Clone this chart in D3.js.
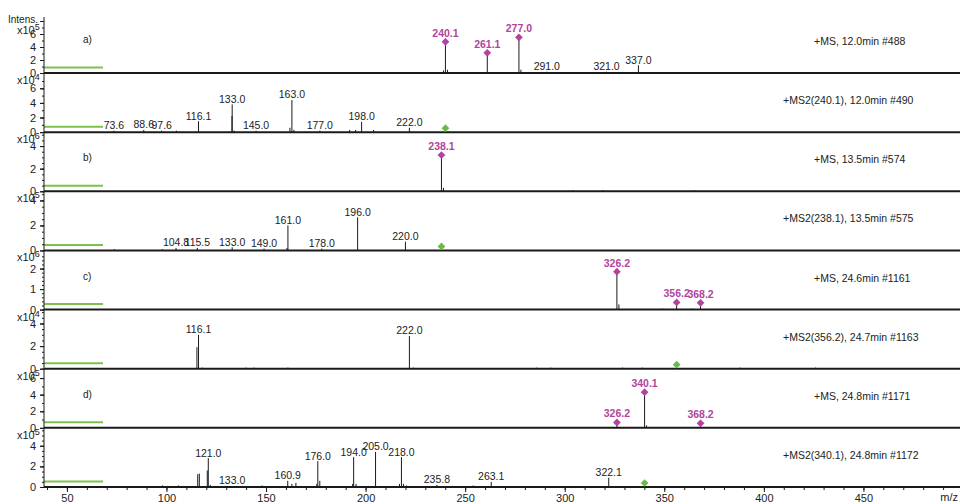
<!DOCTYPE html>
<html><head><meta charset="utf-8">
<script src="https://cdn.jsdelivr.net/npm/d3@7"></script>
<style>
html,body{margin:0;padding:0;background:#fff;}
svg{display:block;font-family:"Liberation Sans",Arial,sans-serif;}
</style></head><body>
<svg id="chart" width="960" height="504"></svg>
<script>
// ---- m/z axis ----
const mzTicks = [50, 100, 150, 200, 250, 300, 350, 400, 450];
const mzRange = [38.5, 499];

// ---- a) +MS, 12.0min #488 ----
const peaksA1 = [[239.1,0.4],[240.1,4.8],[241.1,0.5],[261.1,3.1],[277.0,5.5],[278.0,0.5],[291.0,0.2],[321.0,0.2],[337.0,1.2]];
const labelsA1 = [291.0, 321.0, 337.0];
const markedA1 = [240.1, 261.1, 277.0];
// ---- +MS2(240.1), 12.0min #490 ----
const peaksA2 = [[73.6,0.2],[88.6,0.3],[97.6,0.2],[105.0,0.2],[116.1,1.5],[132.9,2.2],[133.0,3.8],[134.0,0.2],[145.0,0.2],[162.0,0.6],[163.0,4.4],[164.0,0.3],[177.0,0.2],[192.0,0.3],[195.0,0.3],[198.0,1.4],[204.0,0.3],[222.0,0.6]];
const labelsA2 = [73.6, 88.6, 97.6, 116.1, 133.0, 145.0, 163.0, 177.0, 198.0, 222.0];
// ---- b) +MS, 13.5min #574 ----
const peaksB1 = [[238.1,3.2],[239.1,0.3],[304.0,0.1],[319.0,0.1],[365.0,0.1]];
const markedB1 = [238.1];
// ---- +MS2(238.1), 13.5min #575 ----
const peaksB2 = [[74.0,0.1],[98.0,0.1],[104.8,0.2],[115.5,0.2],[133.0,0.25],[149.0,0.15],[160.5,0.2],[161.0,2.0],[178.0,0.15],[196.0,2.65],[220.0,0.7]];
const labelsB2 = [104.8, 115.5, 133.0, 149.0, 161.0, 178.0, 196.0, 220.0];
// ---- c) +MS, 24.6min #1161 ----
const peaksC1 = [[326.2,1.85],[327.2,0.25],[349.0,0.05],[356.2,0.35],[364.0,0.05],[368.2,0.33]];
const markedC1 = [326.2, 356.2, 368.2];
// ---- +MS2(356.2), 24.7min #1163 ----
const peaksC2 = [[115.3,1.9],[116.1,3.0],[118.0,0.1],[140.0,0.1],[144.0,0.1],[161.0,0.1],[222.0,2.9],[224.0,0.1],[286.0,0.1],[293.0,0.1],[329.0,0.1],[339.0,0.1],[388.0,0.1],[426.0,0.1]];
const labelsC2 = [116.1, 222.0];
// ---- d) +MS, 24.8min #1171 ----
const peaksD1 = [[326.2,0.65],[340.1,4.3],[341.1,0.3],[368.2,0.55]];
const markedD1 = [326.2, 340.1, 368.2];
// ---- +MS2(340.1), 24.8min #1172 ----
const peaksD2 = [[98.0,0.15],[106.0,0.15],[115.7,1.25],[116.5,1.3],[120.5,1.6],[121.0,2.8],[122.0,0.2],[131.0,0.1],[133.0,0.1],[148.0,0.15],[160.9,0.6],[163.0,0.3],[165.0,0.4],[175.5,0.3],[176.0,2.5],[177.0,0.6],[193.5,0.3],[194.0,2.9],[195.2,0.3],[205.0,3.4],[206.0,0.1],[217.0,0.3],[218.0,2.9],[219.0,0.3],[220.5,0.15],[223.0,0.1],[235.8,0.2],[254.0,0.15],[263.1,0.5],[322.1,0.9]];
const labelsD2 = [121.0, 133.0, 160.9, 176.0, 194.0, 205.0, 218.0, 235.8, 263.1, 322.1];

// ---- per-trace settings ----
const titles = ["+MS, 12.0min #488", "+MS2(240.1), 12.0min #490", "+MS, 13.5min #574", "+MS2(238.1), 13.5min #575",
                "+MS, 24.6min #1161", "+MS2(356.2), 24.7min #1163", "+MS, 24.8min #1171", "+MS2(340.1), 24.8min #1172"];
const tags = ["a)", "", "b)", "", "c)", "", "d)", ""];
const exponents = ["5", "4", "6", "5", "6", "4", "5", "5"];
const yMaxes = [8.77, 7.8, 5.04, 4.56, 2.78, 5.04, 6.87, 5.53];
const yTickSteps = [2, 2, 2, 2, 1, 2, 2, 2];
const yMinorSteps = [1, 1, 0.5, 0.5, 0.2, 0.5, 1, 0.5];
const precursors = [null, 240.1, null, 238.1, null, 356.2, null, 340.1];

const peakSets = [peaksA1, peaksA2, peaksB1, peaksB2, peaksC1, peaksC2, peaksD1, peaksD2];
const labelSets = [labelsA1, labelsA2, [], labelsB2, [], labelsC2, [], labelsD2];
const markedSets = [markedA1, [], markedB1, [], markedC1, [], markedD1, []];

// ---- drawing ----
const svg = d3.select("#chart");
const W = 960, axisX = 44, firstBase = 73, lastBase = 487;
const step = (lastBase - firstBase) / 7;
const plotH = 57;
const magenta = "#b2449d", greenMark = "#6cb945", greenLine = "#7cc24b", ink = "#1a1a1a";

const x = d3.scaleLinear().domain(mzRange).range([axisX, W + 1]);
const diamond = d3.symbol().type(d3.symbolSquare).size(30);

titles.forEach((title, i) => {
  const base = firstBase + i * step;
  const prevBase = i === 0 ? 17 : base - step;
  const labelTop = i === 0 ? 28 : prevBase + 2;
  const y = d3.scaleLinear().domain([0, yMaxes[i]]).range([base, base - plotH]);
  const g = svg.append("g");
  const peaks = peakSets[i].map(([mz, h]) => ({mz, h}));
  const heightOf = mz => (peaks.find(p => Math.abs(p.mz - mz) < 0.01) || {h: 0}).h;

  // y axis ticks (major + minor), limited to this trace's band
  const within = v => y(v) >= prevBase + 2;
  const ticks = d3.range(0, yMaxes[i] + 1e-6, yTickSteps[i]).filter(within);
  const labelled = ticks.filter(v => y(v) >= labelTop);
  const minor = d3.range(0, yMaxes[i] + 1e-6, yMinorSteps[i]).filter(within);
  const minorAxis = g.append("g").attr("transform", `translate(${axisX},0)`)
    .call(d3.axisLeft(y).tickValues(minor).tickSize(2).tickFormat(""));
  const tickAxis = g.append("g").attr("transform", `translate(${axisX},0)`)
    .call(d3.axisLeft(y).tickValues(ticks).tickSize(4).tickFormat(""));
  const labelAxis = g.append("g").attr("transform", `translate(${axisX},0)`)
    .call(d3.axisLeft(y).tickValues(labelled).tickSize(4).tickPadding(4).tickFormat(d3.format("d")));
  [minorAxis, tickAxis, labelAxis].forEach(a => { a.select(".domain").remove(); a.selectAll("line").attr("stroke", ink); });
  labelAxis.selectAll("text").attr("font-size", 11).attr("fill", "#222").attr("font-family", "Liberation Sans, Arial, sans-serif");

  // scale factor label
  const sx = g.append("text").attr("x", 17).attr("y", (i === 0 ? 30 : prevBase + 7) + 4)
    .attr("font-size", 11).attr("fill", "#222").text("x10");
  sx.append("tspan").attr("font-size", 9).attr("dy", -4).text(exponents[i]);

  // green reference line
  g.append("line").attr("x1", axisX).attr("x2", 103).attr("y1", base - 5.5).attr("y2", base - 5.5)
    .attr("stroke", greenLine).attr("stroke-width", 2);

  // stems
  g.selectAll("line.stem").data(peaks).join("line").attr("class", "stem")
    .attr("x1", d => x(d.mz)).attr("x2", d => x(d.mz))
    .attr("y1", y(0)).attr("y2", d => y(d.h))
    .attr("stroke", ink).attr("stroke-width", 1);

  // baseline
  g.append("line").attr("x1", axisX).attr("x2", W).attr("y1", base).attr("y2", base)
    .attr("stroke", ink).attr("stroke-width", 2);

  // black peak labels
  g.selectAll("text.pl").data(labelSets[i]).join("text").attr("class", "pl")
    .attr("x", d => x(d)).attr("y", d => y(heightOf(d)) - 1.5)
    .attr("text-anchor", "middle").attr("font-size", 10.5).attr("fill", "#222")
    .text(d => d.toFixed(1));

  // highlighted peaks
  g.selectAll("path.mk").data(markedSets[i]).join("path").attr("class", "mk")
    .attr("d", diamond).attr("fill", magenta)
    .attr("transform", d => `translate(${x(d)},${y(heightOf(d))}) rotate(45)`);
  g.selectAll("text.ml").data(markedSets[i]).join("text").attr("class", "ml")
    .attr("x", d => x(d)).attr("y", d => y(heightOf(d)) - 5)
    .attr("text-anchor", "middle").attr("font-size", 10.5).attr("font-weight", "bold")
    .attr("fill", magenta).text(d => d.toFixed(1));

  // precursor marker
  if (precursors[i] !== null) {
    g.append("path").attr("d", diamond).attr("fill", greenMark)
      .attr("transform", `translate(${x(precursors[i])},${base - 4}) rotate(45)`);
  }

  // trace title and tag
  const isMS2 = title.startsWith("+MS2");
  g.append("text").attr("x", isMS2 ? 783 : 814).attr("y", base - 28)
    .attr("font-size", 10.5).attr("fill", "#222").text(title);
  if (tags[i]) {
    g.append("text").attr("x", 83).attr("y", base - 30).attr("font-size", 10)
      .attr("fill", "#222").text(tags[i]);
  }
});

// vertical intensity axis line and title
svg.append("line").attr("x1", axisX).attr("x2", axisX).attr("y1", 17).attr("y2", lastBase)
  .attr("stroke", ink).attr("stroke-width", 1);
svg.append("text").attr("x", 38).attr("y", 23).attr("text-anchor", "end")
  .attr("font-size", 10).attr("fill", "#222").text("Intens.");

// m/z axis
const minorX = svg.append("g").attr("transform", `translate(0,${lastBase})`)
  .call(d3.axisBottom(x).tickValues(d3.range(40, 500, 10)).tickSize(3).tickFormat(""));
const majorX = svg.append("g").attr("transform", `translate(0,${lastBase})`)
  .call(d3.axisBottom(x).tickValues(mzTicks).tickSize(5).tickPadding(2).tickFormat(d3.format("d")));
[minorX, majorX].forEach(a => { a.select(".domain").remove(); a.selectAll("line").attr("stroke", ink); });
majorX.selectAll("text").attr("font-size", 11).attr("fill", "#222").attr("font-family", "Liberation Sans, Arial, sans-serif");
svg.append("text").attr("x", 958).attr("y", 501).attr("text-anchor", "end")
  .attr("font-size", 11).attr("fill", "#222").text("m/z");
</script>
</body></html>
